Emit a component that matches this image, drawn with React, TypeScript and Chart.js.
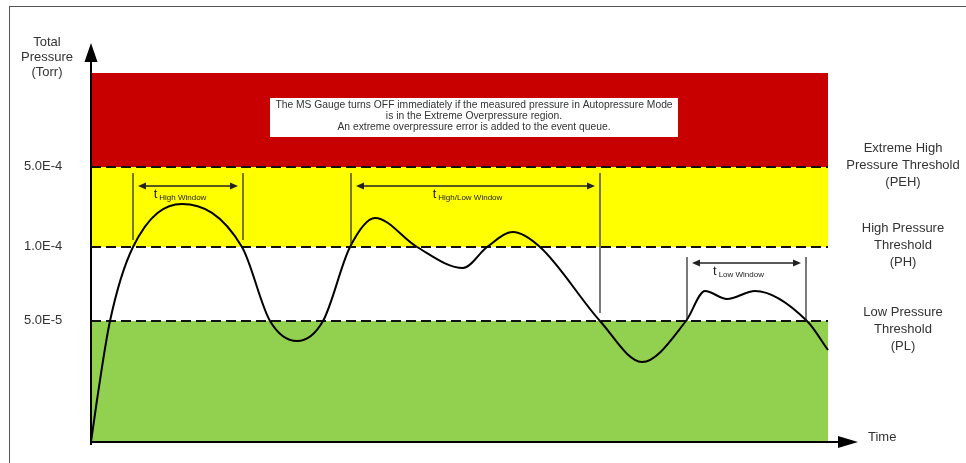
import { useEffect, useRef } from "react";
import { Chart, registerables } from "chart.js";

Chart.register(...registerables);

// ---- data (schematic units: time on x, pressure level on y) ----
const curveTime = [0, 6, 19, 42, 91, 151, 179, 206, 232, 259, 284, 326, 372, 396, 422, 449, 509, 551, 595, 614, 636, 664, 716, 737];
const curveLevel = [0, 42, 121, 195, 238, 195, 121, 101, 121, 195, 224, 195, 174, 195, 210, 195, 121, 80, 121, 151, 143, 151, 121, 92];

const timeMax = 767;
const levelMax = 399;

const thresholdTicks = ["5.0E-4", "1.0E-4", "5.0E-5"];
const thresholdLevels = [275, 195, 121];
const thresholdNames = [
  ["Extreme High", "Pressure Threshold", "(PEH)"],
  ["High Pressure", "Threshold", "(PH)"],
  ["Low Pressure", "Threshold", "(PL)"],
];

const bandEdges = [0, 121, 195, 275, 369];
const bandColors = ["#92d050", "#ffffff", "#ffff00", "#c80000"];
const bandEnd = 737;

const windowNames = ["High Window", "High/Low Window", "Low Window"];
const windowStart = [42, 260, 596];
const windowEnd = [152, 509, 715];
const windowArrowLevel = [256, 256, 179];
const windowTopLevel = [269, 269, 185];
const windowStartBottom = [202, 194, 121];
const windowEndBottom = [202, 129, 121];

const noteLines = [
  "The MS Gauge turns OFF immediately if the measured pressure in Autopressure Mode",
  "is in the Extreme Overpressure region.",
  "An extreme overpressure error is added to the event queue.",
];
const noteTime = [179, 587];
const noteLevel = [305, 344];

const yTitle = ["Total", "Pressure", "(Torr)"];
const xTitle = "Time";

const FONT = '"Liberation Sans", Arial, sans-serif';

const diagramPlugin = {
  id: "diagram",
  beforeDatasetsDraw(chart: any) {
    const { ctx, scales } = chart;
    const x = scales.x, y = scales.y;
    ctx.save();
    const xl = x.getPixelForValue(0);
    const xr = x.getPixelForValue(bandEnd);
    for (let i = 0; i < bandColors.length; i++) {
      const top = y.getPixelForValue(bandEdges[i + 1]);
      const bottom = y.getPixelForValue(bandEdges[i]);
      ctx.fillStyle = bandColors[i];
      ctx.fillRect(xl, top, xr - xl, bottom - top);
    }
    // note box
    const bx0 = x.getPixelForValue(noteTime[0]);
    const bx1 = x.getPixelForValue(noteTime[1]);
    const by0 = y.getPixelForValue(noteLevel[1]);
    const by1 = y.getPixelForValue(noteLevel[0]);
    ctx.fillStyle = "#ffffff";
    ctx.fillRect(bx0, by0, bx1 - bx0, by1 - by0);
    ctx.fillStyle = "#333333";
    ctx.font = `10.3px ${FONT}`;
    ctx.textAlign = "center";
    ctx.textBaseline = "middle";
    const cx = (bx0 + bx1) / 2;
    noteLines.forEach((t, i) => ctx.fillText(t, cx, by0 + 7.5 + i * 11));
    ctx.restore();
  },
  afterDatasetsDraw(chart: any) {
    const { ctx, scales, chartArea } = chart;
    const x = scales.x, y = scales.y;
    ctx.save();
    // window markers
    ctx.strokeStyle = "#222";
    ctx.fillStyle = "#222";
    for (let i = 0; i < windowNames.length; i++) {
      const xs = x.getPixelForValue(windowStart[i]);
      const xe = x.getPixelForValue(windowEnd[i]);
      const yt = y.getPixelForValue(windowTopLevel[i]);
      ctx.lineWidth = 1.2;
      ctx.beginPath();
      ctx.moveTo(xs, yt);
      ctx.lineTo(xs, y.getPixelForValue(windowStartBottom[i]));
      ctx.moveTo(xe, yt);
      ctx.lineTo(xe, y.getPixelForValue(windowEndBottom[i]));
      ctx.stroke();
      const ya = y.getPixelForValue(windowArrowLevel[i]);
      const a0 = xs + 5, a1 = xe - 5;
      ctx.lineWidth = 1.3;
      ctx.beginPath();
      ctx.moveTo(a0 + 4, ya);
      ctx.lineTo(a1 - 4, ya);
      ctx.stroke();
      ctx.beginPath();
      ctx.moveTo(a0, ya);
      ctx.lineTo(a0 + 8, ya - 3.5);
      ctx.lineTo(a0 + 8, ya + 3.5);
      ctx.closePath();
      ctx.moveTo(a1, ya);
      ctx.lineTo(a1 - 8, ya - 3.5);
      ctx.lineTo(a1 - 8, ya + 3.5);
      ctx.closePath();
      ctx.fill();
      // label t_sub
      ctx.textAlign = "left";
      ctx.textBaseline = "alphabetic";
      ctx.font = `13px ${FONT}`;
      const wt = ctx.measureText("t").width;
      ctx.font = `8px ${FONT}`;
      const ws = ctx.measureText(windowNames[i]).width;
      const lx = (xs + xe) / 2 - 8 - (wt + 2 + ws) / 2;
      ctx.font = `13px ${FONT}`;
      ctx.fillText("t", lx, ya + 12);
      ctx.font = `8px ${FONT}`;
      ctx.fillText(windowNames[i], lx + wt + 2, ya + 14);
    }

    // axes
    const ox = x.getPixelForValue(0);
    const oy = y.getPixelForValue(0);
    const yTip = y.getPixelForValue(levelMax);
    const xTip = x.getPixelForValue(timeMax);
    ctx.strokeStyle = "#000";
    ctx.fillStyle = "#000";
    ctx.lineWidth = 2;
    ctx.beginPath();
    ctx.moveTo(ox, oy + 3);
    ctx.lineTo(ox, yTip + 15);
    ctx.moveTo(ox - 1, oy);
    ctx.lineTo(xTip - 15, oy);
    ctx.stroke();
    ctx.beginPath();
    ctx.moveTo(ox, yTip);
    ctx.lineTo(ox - 6.5, yTip + 19);
    ctx.lineTo(ox + 6.5, yTip + 19);
    ctx.closePath();
    ctx.moveTo(xTip, oy);
    ctx.lineTo(xTip - 20, oy - 6);
    ctx.lineTo(xTip - 20, oy + 6);
    ctx.closePath();
    ctx.fill();

    // text
    ctx.fillStyle = "#333";
    ctx.font = `13px ${FONT}`;
    ctx.textBaseline = "middle";
    ctx.textAlign = "center";
    yTitle.forEach((t, i) => ctx.fillText(t, chartArea.left - 44, chartArea.top - 1 + i * 15));
    ctx.textAlign = "left";
    ctx.fillText(xTitle, chartArea.right + 10, oy - 5);
    const offs = [-2, -2, 8];
    thresholdLevels.forEach((lv, i) => {
      const py = y.getPixelForValue(lv);
      ctx.textAlign = "left";
      ctx.fillText(thresholdTicks[i], chartArea.left - 67, py - 1);
      ctx.textAlign = "center";
      const cy = py + offs[i];
      thresholdNames[i].forEach((t, j) => ctx.fillText(t, chartArea.right + 45, cy + (j - 1) * 17));
    });
    ctx.restore();
  },
};

export default function App() {
  const ref = useRef<HTMLCanvasElement | null>(null);
  useEffect(() => {
    if (!ref.current) return;
    const curve = curveTime.map((t, i) => ({ x: t, y: curveLevel[i] }));
    const dashSets = thresholdLevels.map((lv) => ({
      data: [
        { x: 0, y: lv },
        { x: bandEnd, y: lv },
      ],
      borderColor: "#111",
      borderWidth: 2,
      borderDash: [10, 5],
      pointRadius: 0,
      tension: 0,
      fill: false,
    }));
    const chart = new Chart(ref.current, {
      type: "line",
      data: {
        datasets: [
          {
            data: curve,
            borderColor: "#000",
            borderWidth: 2,
            pointRadius: 0,
            cubicInterpolationMode: "monotone",
            fill: false,
          } as any,
          ...dashSets,
        ],
      },
      options: {
        animation: false,
        responsive: false,
        layout: { padding: { left: 91, right: 108, top: 43, bottom: 21 } },
        plugins: { legend: { display: false }, tooltip: { enabled: false } },
        scales: {
          x: { type: "linear", min: 0, max: timeMax, display: false },
          y: { type: "linear", min: 0, max: levelMax, display: false },
        },
      },
      plugins: [diagramPlugin],
    });
    return () => chart.destroy();
  }, []);
  return (
    <div style={{ position: "absolute", left: 0, top: 0, width: 966, height: 463, background: "#fff" }}>
      <div
        style={{
          position: "absolute",
          left: 9,
          top: 6,
          right: 0,
          bottom: 0,
          borderLeft: "1.5px solid #555",
          borderTop: "1.5px solid #555",
        }}
      />
      <canvas ref={ref} width={966} height={463} style={{ position: "absolute", left: 0, top: 0 }} />
    </div>
  );
}
